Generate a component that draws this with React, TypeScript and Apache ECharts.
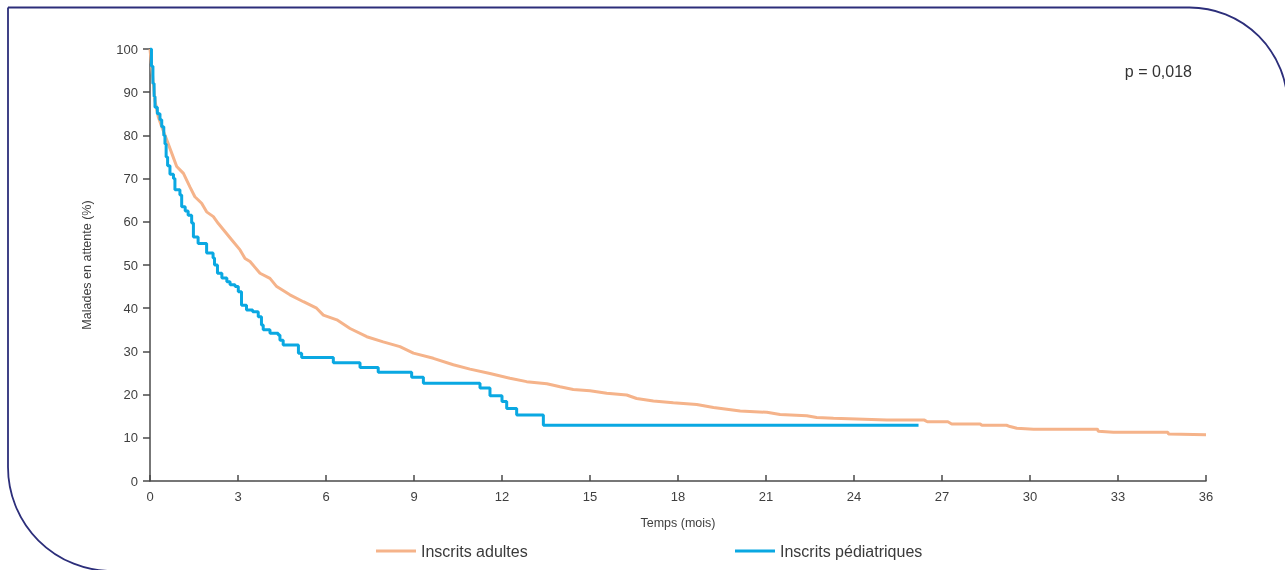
import React, { useEffect, useRef } from "react";
import * as echarts from "echarts";

// Adults (inscrits adultes): time (months) and % still waiting
const adultTimes = [0, 0.17, 0.28, 0.4, 0.57, 0.74, 0.91, 1.14, 1.36, 1.53, 1.76, 1.93, 2.16, 2.33, 2.56, 2.79, 3.07, 3.24, 3.41, 3.75, 4.09, 4.32, 4.77, 5.23, 5.68, 5.91, 6.37, 6.82, 7.39, 7.95, 8.52, 8.98, 9.66, 10.34, 10.91, 11.59, 12.27, 12.84, 13.53, 13.98, 14.43, 15.0, 15.57, 16.25, 16.59, 17.16, 17.84, 18.64, 19.21, 20.12, 21.03, 21.48, 22.39, 22.73, 23.3, 25.12, 26.4, 26.5, 27.2, 27.33, 28.3, 28.36, 29.2, 29.32, 29.55, 30.12, 32.3, 32.33, 32.84, 34.7, 34.72, 36];
const adultValues = [100, 88, 84.3, 82, 79, 75.9, 72.8, 71.2, 68.1, 65.8, 64.3, 62.3, 61.2, 59.6, 57.7, 55.8, 53.5, 51.5, 50.8, 48.1, 46.9, 45, 43.1, 41.5, 40, 38.4, 37.3, 35.3, 33.4, 32.2, 31.1, 29.6, 28.4, 26.9, 25.9, 24.9, 23.8, 23.0, 22.5, 21.8, 21.2, 20.9, 20.3, 19.9, 19.1, 18.5, 18.1, 17.7, 17.0, 16.2, 15.9, 15.4, 15.1, 14.7, 14.5, 14.1, 14.1, 13.7, 13.7, 13.2, 13.2, 12.9, 12.9, 12.6, 12.2, 12.0, 12.0, 11.5, 11.3, 11.3, 10.9, 10.7];

// Children (inscrits pédiatriques): step drops
const childTimes = [0, 0.05, 0.1, 0.14, 0.17, 0.25, 0.34, 0.4, 0.47, 0.51, 0.55, 0.6, 0.68, 0.8, 0.85, 1.02, 1.08, 1.2, 1.3, 1.42, 1.48, 1.64, 1.93, 2.15, 2.2, 2.3, 2.45, 2.62, 2.73, 2.9, 3.01, 3.12, 3.29, 3.5, 3.69, 3.8, 3.86, 4.09, 4.37, 4.43, 4.54, 5.06, 5.17, 6.25, 7.16, 7.78, 8.92, 9.32, 11.25, 11.59, 12.0, 12.16, 12.5, 13.41, 26.2];
const childValues = [100, 96, 92, 89, 86.5, 85, 83.6, 82, 80, 78, 75, 73, 71, 70, 67.4, 66.2, 63.5, 62.5, 61.5, 59.7, 56.5, 55, 52.8, 51.6, 50, 48.1, 47, 46.1, 45.4, 45, 43.8, 40.7, 39.6, 39.2, 38, 36.1, 35, 34.2, 33.8, 32.6, 31.5, 29.6, 28.6, 27.4, 26.3, 25.2, 24.0, 22.6, 21.5, 19.75, 18.4, 16.8, 15.3, 12.9, 12.9];

const seriesNames = ["Inscrits adultes", "Inscrits pédiatriques"];
const xTicks = { min: 0, max: 36, interval: 3 };
const yTicks = { min: 0, max: 100, interval: 10 };
const pValueText = "p = 0,018";

const FONT = "'Liberation Sans', Arial, sans-serif";

export default function App() {
  const ref = useRef<HTMLDivElement>(null);
  useEffect(() => {
    if (!ref.current) return;
    const chart = echarts.init(ref.current, null, { renderer: "svg" });
    const axisColor = "#4a4a4a";
    const labelColor = "#3f3f3f";
    const legendBase = {
      top: 538,
      icon: "rect",
      itemWidth: 40,
      itemHeight: 3,
      itemGap: 6,
      textStyle: { fontFamily: FONT, fontSize: 16, color: "#3a3a3a" },
    };
    chart.setOption({
      animation: false,
      textStyle: { fontFamily: FONT },
      grid: { left: 150, right: 79, top: 49, bottom: 89, containLabel: false },
      legend: [
        { ...legendBase, data: [seriesNames[0]], left: 371 },
        { ...legendBase, data: [seriesNames[1]], left: 730 },
      ],
      xAxis: {
        type: "value",
        min: xTicks.min,
        max: xTicks.max,
        interval: xTicks.interval,
        name: "Temps (mois)",
        nameLocation: "middle",
        nameGap: 35,
        nameTextStyle: { fontSize: 12.5, color: labelColor, fontFamily: FONT },
        splitLine: { show: false },
        axisLine: { show: true, lineStyle: { color: axisColor, width: 1.5 } },
        axisTick: { show: true, inside: true, length: 6, lineStyle: { color: axisColor, width: 1.5 } },
        axisLabel: { color: labelColor, fontSize: 13, margin: 9, fontFamily: FONT },
      },
      yAxis: {
        type: "value",
        min: yTicks.min,
        max: yTicks.max,
        interval: yTicks.interval,
        name: "Malades en attente (%)",
        nameLocation: "middle",
        nameGap: 57,
        nameTextStyle: { fontSize: 12.5, color: labelColor, fontFamily: FONT },
        splitLine: { show: false },
        axisLine: { show: true, lineStyle: { color: axisColor, width: 1.5 } },
        axisTick: { show: true, inside: false, length: 7, lineStyle: { color: axisColor, width: 1.5 } },
        axisLabel: { color: labelColor, fontSize: 13, margin: 12, fontFamily: FONT },
      },
      series: [
        {
          name: seriesNames[0],
          type: "line",
          data: adultTimes.map((t, i) => [t, adultValues[i]]),
          showSymbol: false,
          symbol: "none",
          lineStyle: { color: "#F5B38A", width: 3 },
          itemStyle: { color: "#F5B38A" },
          z: 2,
        },
        {
          name: seriesNames[1],
          type: "line",
          step: "end",
          data: childTimes.map((t, i) => [t, childValues[i]]),
          showSymbol: false,
          symbol: "none",
          lineStyle: { color: "#0AA8E2", width: 3 },
          itemStyle: { color: "#0AA8E2" },
          z: 3,
        },
      ],
      graphic: [
        {
          type: "rect",
          shape: { x: 8, y: 7.5, width: 1279.5, height: 563.5, r: [0, 98, 0, 104] },
          style: { fill: "none", stroke: "#2c2e7a", lineWidth: 1.8 },
          silent: true,
        },
        {
          type: "text",
          right: 93,
          top: 63,
          style: { text: pValueText, fontSize: 16, fill: "#333", fontFamily: FONT },
        },
      ],
    });
    return () => chart.dispose();
  }, []);
  return <div ref={ref} style={{ position: "fixed", left: 0, top: 0, width: 1285, height: 570 }} />;
}
